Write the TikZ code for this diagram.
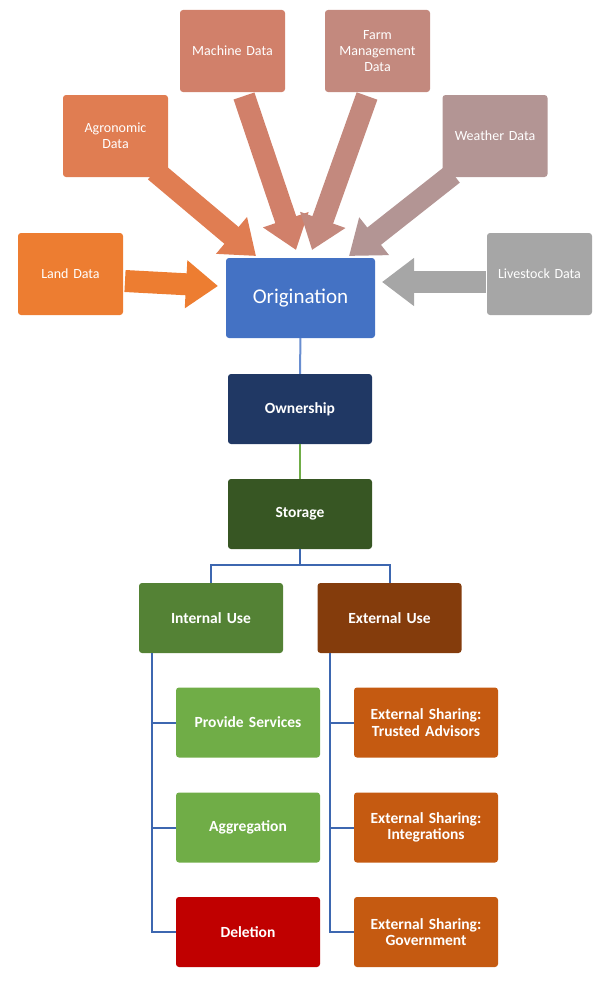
\documentclass[tikz,border=0pt]{standalone}
\usepackage{fontspec}
\setmainfont{Carlito}
\usetikzlibrary{arrows.meta}
\definecolor{cLand}{HTML}{ED7D31}
\definecolor{cAgro}{HTML}{E07D52}
\definecolor{cMach}{HTML}{D1806A}
\definecolor{cFarm}{HTML}{C3897E}
\definecolor{cWeat}{HTML}{B39594}
\definecolor{cLive}{HTML}{A6A6A6}
\definecolor{cOrig}{HTML}{4472C4}
\definecolor{cOwn}{HTML}{203864}
\definecolor{cSto}{HTML}{375623}
\definecolor{cInt}{HTML}{548235}
\definecolor{cExt}{HTML}{843C0C}
\definecolor{cGreen}{HTML}{70AD47}
\definecolor{cRed}{HTML}{C00000}
\definecolor{cOr}{HTML}{C55A11}
\begin{document}
\begin{tikzpicture}[x=1pt,y=-1pt,
  box/.style={rounded corners=3pt,text=white,align=center,inner sep=0pt,font=\fontsize{14}{16}\selectfont},
  src/.style={box,minimum width=105pt,minimum height=82pt,text width=100pt},
  mid/.style={box,minimum width=144pt,minimum height=70pt,text width=140pt,font=\bfseries\fontsize{15.5}{16.5}\selectfont},
  fat/.style={line width=22pt,-{Triangle[width=46pt,length=32pt]}},
  conn/.style={line width=2pt,color=cOrig!90!black}]
\useasboundingbox (0,0) rectangle (608,982);
\node[src,fill=cLand] (land) at (70.5,274) {Land Data};
\node[src,fill=cAgro] (agro) at (115.5,136) {Agronomic\\Data};
\node[src,fill=cMach] (mach) at (232.5,51) {Machine Data};
\node[src,fill=cFarm] (farm) at (377.5,51) {Farm\\Management\\Data};
\node[src,fill=cWeat] (weat) at (495,136) {Weather Data};
\node[src,fill=cLive] (live) at (539.5,274) {Livestock Data};
\node[box,fill=cOrig,minimum width=149pt,minimum height=80pt,font=\fontsize{21}{24}\selectfont] (orig) at (300.5,298) {Origination};
\node[mid,fill=cOwn] (own) at (300,409) {Ownership};
\node[mid,fill=cSto] (sto) at (300,514) {Storage};
\node[mid,fill=cInt] (int) at (211,618) {Internal Use};
\node[mid,fill=cExt] (ext) at (389.5,618) {External Use};
\node[mid,fill=cGreen] (prov) at (248,722.5) {Provide Services};
\node[mid,fill=cGreen] (aggr) at (248,827.5) {Aggregation};
\node[mid,fill=cRed] (del) at (248,932) {Deletion};
\node[mid,fill=cOr] (trus) at (426,722.5) {External Sharing:\\Trusted Advisors};
\node[mid,fill=cOr] (integ) at (426,827.5) {External Sharing:\\Integrations};
\node[mid,fill=cOr] (gov) at (426,932) {External Sharing:\\Government};
% fat arrows
\coordinate (tLand) at (218,286);
\coordinate (tAgro) at (256,256);
\coordinate (tMach) at (296,250);
\coordinate (tFarm) at (312,250);
\coordinate (tWeat) at (349,256);
\coordinate (tLive) at (382,282);
\draw[fat,cLand] (125,281) -- (tLand);
\draw[fat,cAgro] (155,171) -- (tAgro);
\draw[fat,cMach] (244,96) -- (tMach);
\draw[fat,cFarm] (367,96) -- (tFarm);
\draw[fat,cWeat] (453,174) -- (tWeat);
\draw[fat,cLive] (486,282) -- (tLive);
% connectors
\draw[line width=2pt,cOrig!80] (orig) -- (own);
\draw[line width=2pt,cGreen] (own) -- (sto);
\draw[conn] (sto.south) -- ++(0,16) -| (int.north);
\draw[conn] (sto.south) -- ++(0,16) -| (ext.north);
\draw[conn] (152,653) -- (152,932) -- (del.west);
\draw[conn] (152,722.5) -- (prov.west);
\draw[conn] (152,827.5) -- (aggr.west);
\draw[conn] (330,653) -- (330,932) -- (gov.west);
\draw[conn] (330,722.5) -- (trus.west);
\draw[conn] (330,827.5) -- (integ.west);
\end{tikzpicture}
\end{document}
